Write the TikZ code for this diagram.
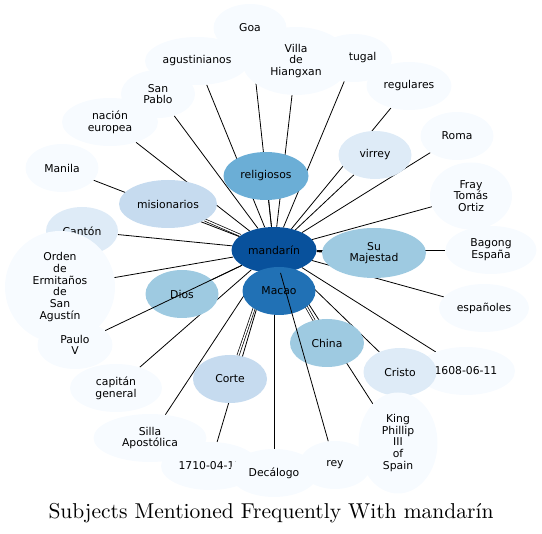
\documentclass[tikz,border=0pt]{standalone}
\usepackage{fontspec}
\newfontfamily\nodefont{DejaVu Sans}
\newfontfamily\titlefont{lmroman10-regular.otf}
\usetikzlibrary{shapes.geometric}
\usetikzlibrary{backgrounds}
\definecolor{toneA}{HTML}{08519C}
\definecolor{toneB}{HTML}{2171B5}
\definecolor{toneC}{HTML}{6BAED6}
\definecolor{toneD}{HTML}{9ECAE1}
\definecolor{toneE}{HTML}{C6DBEF}
\definecolor{toneF}{HTML}{DEEBF7}
\definecolor{toneG}{HTML}{F7FBFF}

\begin{document}
\begin{tikzpicture}[
    x=1pt,
    y=-1pt,
    topic/.style={
        ellipse,
        inner sep=0pt,
        minimum width=73pt,
        minimum height=48pt,
        fill=toneG,
        align=center,
        font=\nodefont\fontsize{10.8}{11.7}\selectfont
    },
    link/.style={draw, line width=0.8pt},
    pair/.style={draw, double, double distance=1.4pt, line width=0.7pt},
    heavy/.style={draw, line width=1.8pt}
]
\useasboundingbox (0,0) rectangle (542,534);

% Nodes
\node [topic] (goa) at (250,28) {Goa};
\node [topic, minimum width=104pt] (agustinianos) at (197,61) {agustinianos};
\node [topic, minimum width=76pt] (portugal) at (354,58) {Portugal};
\node [topic, minimum width=108pt, minimum height=68pt] (villa) at (296,61) {Villa\\de\\Hiangxan};
\node [topic, minimum width=85pt] (regulares) at (409,86) {regulares};
\node [topic] (roma) at (457,136) {Roma};
\node [topic, minimum width=82pt, minimum height=67pt] (fray) at (471,196) {Fray\\Tomás\\Ortiz};
\node [topic, minimum width=91pt] (bagong) at (491,250) {Bagong\\España};
\node [topic, minimum width=90pt] (espanoles) at (484,308) {españoles};
\node [topic, minimum width=98pt] (fecha1608) at (466,371) {1608-06-11};
\node [topic, fill=toneF] (cristo) at (400,372) {Cristo};
\node [topic, fill=toneD, minimum width=74pt] (china) at (327,343) {China};
\node [topic, minimum width=79pt, minimum height=101pt] (king) at (398,443) {King\\Phillip\\III\\of\\Spain};
\node [topic, minimum width=72pt] (rey) at (335,465) {rey};
\node [topic, minimum width=98pt] (fecha1710) at (210,466) {1710-04-17};
\node [topic, minimum width=88pt] (decalogo) at (274,473) {Decálogo};
\node [topic, minimum width=113pt] (silla) at (150,438) {Silla\\Apostólica};
\node [topic, fill=toneE, minimum width=74pt] (corte) at (230,379) {Corte};
\node [topic, minimum width=92pt] (capitan) at (116,388) {capitán\\general};
\node [topic, fill=toneF, minimum width=72pt] (canton) at (82,231) {Cantón};
\node [topic, minimum width=110pt, minimum height=112pt] (orden) at (60,287) {Orden\\de\\Ermitaños\\de\\San\\Agustín};
\node [topic, minimum width=75pt] (paulo) at (75,345) {Paulo\\V};
\node [topic, fill=toneD] (dios) at (182,294) {Dios};
\node [topic] (manila) at (62,168) {Manila};
\node [topic, minimum width=96pt] (nacion) at (110,122) {nación\\europea};
\node [topic, minimum width=74pt] (sanpablo) at (158,94) {San\\Pablo};
\node [topic, fill=toneE, minimum width=98pt] (misionarios) at (168,204) {misionarios};
\node [topic, fill=toneC, minimum width=85pt] (religiosos) at (266,176) {religiosos};
\node [topic, fill=toneF] (virrey) at (375,155) {virrey};
\node [topic, fill=toneD, minimum width=104pt, minimum height=50pt] (majestad) at (374,253) {Su\\Majestad};
\node [topic, fill=toneA, minimum width=85pt, minimum height=46pt] (mandarin) at (274,250) {mandarín};
\node [topic, fill=toneB] (macao) at (279,291) {Macao};

% Links behind the nodes
\begin{scope}[on background layer]
\draw [link] (mandarin) -- (goa);
\draw [link] (mandarin) -- (agustinianos);
\draw [link] (mandarin) -- (portugal);
\draw [link] (mandarin) -- (villa);
\draw [link] (mandarin) -- (regulares);
\draw [link] (mandarin) -- (roma);
\draw [link] (mandarin) -- (fray);
\draw [link] (mandarin) -- (bagong);
\draw [link] (mandarin) -- (espanoles);
\draw [link] (mandarin) -- (fecha1608);
\draw [link] (mandarin) -- (cristo);
\draw [pair] (mandarin) -- (china);
\draw [link] (mandarin) -- (king);
\draw [link] (mandarin) -- (fecha1710);
\draw [link] (mandarin) -- (decalogo);
\draw [link] (mandarin) -- (silla);
\draw [pair] (mandarin) -- (corte);
\draw [link] (mandarin) -- (capitan);
\draw [link] (mandarin) -- (canton);
\draw [link] (mandarin) -- (orden);
\draw [link] (mandarin) -- (dios);
\draw [link] (mandarin) -- (manila);
\draw [link] (mandarin) -- (nacion);
\draw [link] (mandarin) -- (sanpablo);
\draw [pair] (mandarin) -- (misionarios);
\draw [link] (mandarin) -- (religiosos);
\draw [link] (mandarin) -- (virrey);
\draw [heavy] (mandarin) -- (majestad);
\end{scope}

% Links drawn over the nodes
\draw [link] (mandarin) -- (paulo);
\draw [link] (mandarin) -- (rey);

% Title
\node [anchor=base, font=\titlefont\fontsize{21.5}{24}\selectfont] (title) at (271,519) {Subjects Mentioned Frequently With mandarín};

\end{tikzpicture}
\end{document}
